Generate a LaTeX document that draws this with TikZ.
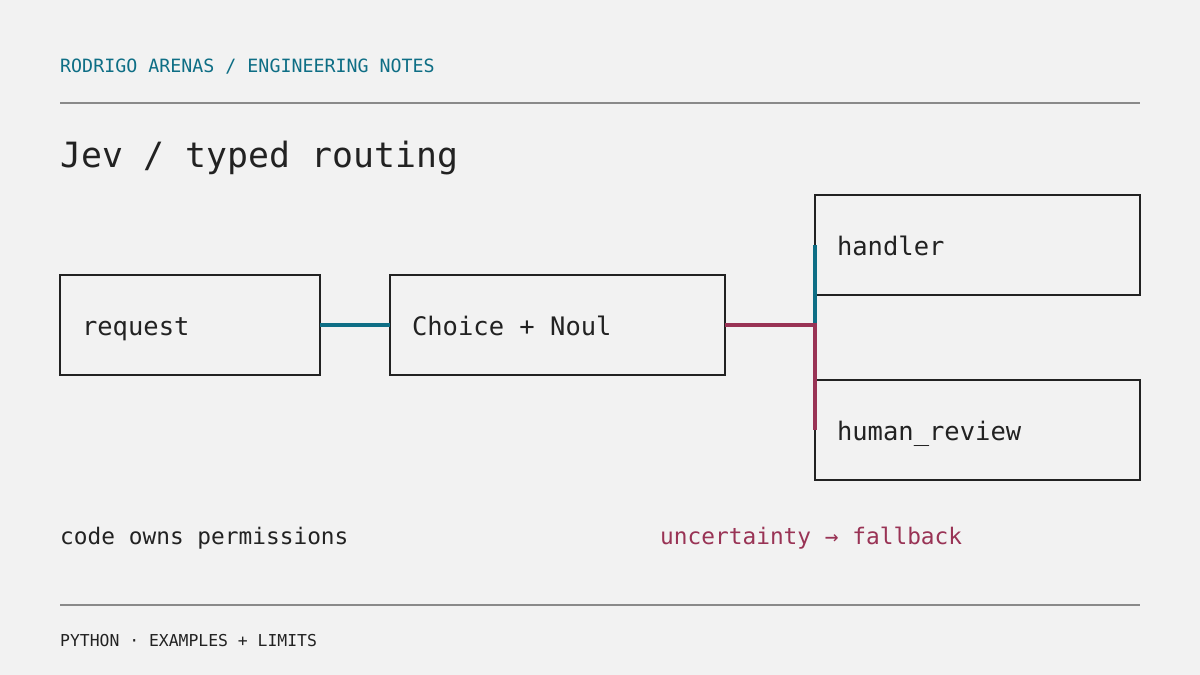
\documentclass[tikz,border=0pt]{standalone}
\usepackage{fontspec}
\setmainfont{DejaVu Sans Mono}
\usetikzlibrary{positioning}
\definecolor{pagebg}{HTML}{F2F2F2}
\definecolor{ink}{HTML}{222222}
\definecolor{rulegray}{HTML}{8A8A8A}
\definecolor{tealish}{HTML}{0E6E85}
\definecolor{wine}{HTML}{993355}

\begin{document}
\begin{tikzpicture}[x=1pt, y=-1pt,
  every node/.style = {inner sep=0pt, text=ink},
  routebox/.style = {shape=rectangle, draw=ink, line width=2pt,
    anchor=north west, outer sep=0pt, minimum height=100pt, inner xsep=22pt,
    text height=25pt, text depth=5pt,
    execute at begin node={\spaceskip=0pt\xspaceskip=0pt},
    font=\fontsize{25.5}{30}\selectfont},
  hrule/.style = {draw=rulegray, line width=2pt},
  link/.style = {line width=3.5pt}
  ]
  \fill[pagebg] (0,0) rectangle (1200,675);
  \useasboundingbox (0,0) rectangle (1200,675);

  % header and title
  \node[anchor=base west, text=tealish, font=\fontsize{18.3}{22}\selectfont] (author) at (60,72) {RODRIGO ARENAS / ENGINEERING NOTES};
  \coordinate (topL) at (60,103);
  \coordinate (topR) at (1140,103);
  \draw[hrule] (topL) -- (topR);
  \node[anchor=base west, font=\fontsize{34.8}{40}\selectfont] (title) at (60,167) {Jev / typed routing};

  % boxes
  \node[routebox, text width=216pt] (request) at (60,275) {request};
  \node[routebox, text width=291pt] (choice) at (390,275) {Choice + Noul};
  \node[routebox, text width=281pt] (handler) at (815,195) {handler};
  \node[routebox, text width=281pt] (review) at (815,380) {human\_review};

  % connectors
  \draw[link, tealish] (request.east) -- (choice.west);
  \draw[link, tealish] (handler.west) -- (handler.west |- choice.east);
  \draw[link, wine] (choice.east) -- (handler.west |- choice.east) -- (review.west);

  % notes
  \node[anchor=base west, font=\fontsize{22.8}{27}\selectfont] (codeowns) at (60,544) {code owns permissions};
  \node[anchor=base west, text=wine, font=\fontsize{22.8}{27}\selectfont] (fallback) at (660,544) {uncertainty → fallback};

  % footer
  \coordinate (botL) at (60,605);
  \coordinate (botR) at (1140,605);
  \draw[hrule] (botL) -- (botR);
  \node[anchor=base west, font=\fontsize{16.4}{20}\selectfont] (footer) at (60,646) {PYTHON · EXAMPLES + LIMITS};
\end{tikzpicture}
\end{document}
